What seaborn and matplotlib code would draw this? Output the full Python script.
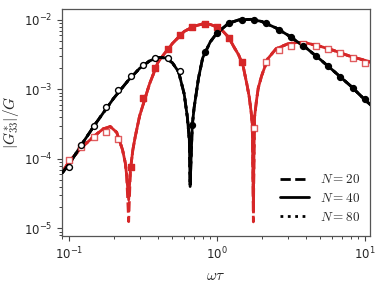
import matplotlib
matplotlib.use("Agg")
import matplotlib.pyplot as plt
import numpy as np
import pandas as pd
import seaborn as sns
from matplotlib.ticker import LogLocator

# --- simulation points (markers) ---
omega_pts = [0.1, 0.1212, 0.1468, 0.1778, 0.2154, 0.2610, 0.3162, 0.3831,
             0.4642, 0.5623, 0.6813, 0.8254, 1.0, 1.212, 1.468, 1.778,
             2.154, 2.610, 3.162, 3.831, 4.642, 5.623, 6.813, 8.254, 10.0]
black_pts = [7.75e-5, 1.59e-4, 2.98e-4, 5.54e-4, 9.74e-4, 1.55e-3, 2.27e-3,
             2.82e-3, 2.81e-3, 1.87e-3, 3.08e-4, 3.43e-3, 6.50e-3, 9.05e-3,
             1.01e-2, 1.01e-2, 8.97e-3, 7.25e-3, 5.64e-3, 4.18e-3, 3.06e-3,
             2.16e-3, 1.51e-3, 1.05e-3, 7.37e-4]
black_open = [1] * 10 + [0] * 15
red_pts = [9.67e-5, 1.50e-4, 2.04e-4, 2.43e-4, 1.94e-4, 7.67e-5, 7.54e-4,
           2.02e-3, 3.86e-3, 6.04e-3, 7.88e-3, 8.70e-3, 7.88e-3, 5.45e-3,
           2.51e-3, 2.82e-4, 2.46e-3, 3.70e-3, 4.27e-3, 4.47e-3, 4.22e-3,
           3.79e-3, 3.32e-3, 2.87e-3, 2.43e-3]
red_open = [1] * 5 + [0] * 10 + [1] * 10

# --- theory curves ---
black_x = [0.09, 0.1, 0.12, 0.15, 0.2, 0.25, 0.3, 0.35, 0.4, 0.45, 0.5,
           0.55, 0.6, 0.63, 0.65, 0.68, 0.7, 0.75, 0.8, 0.9, 1.0, 1.2, 1.4,
           1.7, 2.0, 2.5, 3.0, 4.0, 5.0, 6.0, 8.0, 10.0, 11.0]
black_y = [6.29e-5, 8.33e-5, 1.54e-4, 3.14e-4, 7.42e-4, 1.33e-3, 2.01e-3,
           2.57e-3, 2.89e-3, 2.84e-3, 2.41e-3, 1.79e-3, 8.61e-4, 4.02e-4,
           1.88e-4, 2.98e-4, 5.42e-4, 1.46e-3, 2.84e-3, 4.83e-3, 6.50e-3,
           8.97e-3, 1.00e-2, 1.02e-2, 9.51e-3, 7.67e-3, 6.08e-3, 3.96e-3,
           2.68e-3, 1.92e-3, 1.12e-3, 7.06e-4, 5.89e-4]
black_dip_x = [0.658]
black_dip_y = {20: [4.0e-5], 40: [4.2e-5], 80: [4.6e-5]}

red_x = [0.09, 0.1, 0.12, 0.15, 0.17, 0.19, 0.21, 0.23, 0.24, 0.245, 0.26,
         0.27, 0.28, 0.3, 0.35, 0.4, 0.45, 0.5, 0.6, 0.7, 0.8, 0.9, 1.0,
         1.1, 1.2, 1.3, 1.4, 1.5, 1.6, 1.65, 1.7, 1.73, 1.79, 1.85, 1.9,
         2.0, 2.2, 2.5, 3.0, 3.5, 4.0, 5.0, 6.0, 8.0, 10.0, 11.0]
red_y = [6.50e-5, 9.05e-5, 1.42e-4, 2.18e-4, 2.70e-4, 2.92e-4, 2.41e-4,
         1.35e-4, 8.76e-5, 5.89e-5, 6.95e-5, 1.35e-4, 2.07e-4, 4.16e-4,
         1.20e-3, 2.49e-3, 3.46e-3, 4.59e-3, 6.83e-3, 8.12e-3, 8.76e-3,
         8.62e-3, 7.88e-3, 6.83e-3, 5.60e-3, 4.09e-3, 3.14e-3, 2.18e-3,
         1.12e-3, 7.80e-4, 4.75e-4, 3.19e-4, 3.89e-4, 7.06e-4, 1.05e-3,
         1.56e-3, 2.75e-3, 3.83e-3, 4.52e-3, 4.75e-3, 4.67e-3, 4.16e-3,
         3.70e-3, 2.98e-3, 2.62e-3, 2.45e-3]
red_dip_x = [0.253, 1.76]
red_dip_y = {20: [1.25e-5, 1.24e-5], 40: [2.57e-5, 2.33e-5], 80: [3.2e-5, 3.0e-5]}

N_values = [20, 40, 80]
styles = {20: "--", 40: "-", 80: ":"}

RED = "#d62728"
BLACK = "black"


def curve(xs, ys, dip_x, dip_y):
    df = pd.DataFrame({"x": list(xs) + list(dip_x), "y": list(ys) + list(dip_y)})
    return df.sort_values("x")


sns.set_style("ticks")
plt.rcParams["mathtext.fontset"] = "cm"

fig, ax = plt.subplots(figsize=(3.84, 2.88), dpi=100)
fig.subplots_adjust(left=0.1615, right=0.9635, top=0.969, bottom=0.181)

handles = []
for N in N_values:
    df = curve(red_x, red_y, red_dip_x, red_dip_y[N])
    sns.lineplot(data=df, x="x", y="y", ax=ax, color=RED, lw=2,
                 linestyle=styles[N], sort=False, estimator=None, zorder=2)
for N in N_values:
    df = curve(black_x, black_y, black_dip_x, black_dip_y[N])
    sns.lineplot(data=df, x="x", y="y", ax=ax, color=BLACK, lw=2,
                 linestyle=styles[N], sort=False, estimator=None, zorder=3)
    handles.append(plt.Line2D([], [], color=BLACK, lw=2, linestyle=styles[N],
                              label=rf"$N = {N}$"))

# markers: open = one sign, filled = the other
pts = pd.DataFrame({"x": omega_pts, "red": red_pts, "black": black_pts,
                    "red_open": red_open, "black_open": black_open})
ro = pts[pts.red_open == 1]
rf = pts[pts.red_open == 0]
bo = pts[pts.black_open == 1]
bf = pts[pts.black_open == 0]
sns.scatterplot(data=ro, x="x", y="red", ax=ax, marker="s", s=18,
                facecolor="white", edgecolor=(0.84, 0.15, 0.16, 0.75),
                linewidth=1.0, zorder=5)
sns.scatterplot(data=rf, x="x", y="red", ax=ax, marker="s", s=18,
                color=RED, edgecolor=RED, linewidth=1.0, zorder=5)
sns.scatterplot(data=bo, x="x", y="black", ax=ax, marker="o", s=18,
                facecolor="white", edgecolor=BLACK, linewidth=1.0, zorder=6)
sns.scatterplot(data=bf, x="x", y="black", ax=ax, marker="o", s=18,
                color=BLACK, edgecolor=BLACK, linewidth=1.0, zorder=6)

ax.set_xscale("log")
ax.set_yscale("log")
ax.set_xlim(0.0897, 10.8)
ax.set_ylim(7.8e-6, 1.44e-2)
ax.xaxis.set_minor_locator(LogLocator(base=10, subs=np.arange(2, 10), numticks=20))
ax.yaxis.set_minor_locator(LogLocator(base=10, subs=np.arange(2, 10), numticks=20))
ax.tick_params(labelsize=8.5)
ax.tick_params(which="major", length=3.5, width=0.8, color="#444444")
ax.tick_params(which="minor", length=2.5, width=0.7, color="#444444",
               bottom=True, left=True, labelbottom=False, labelleft=False)
for sp in ax.spines.values():
    sp.set_color("#555555")
    sp.set_linewidth(0.9)
ax.set_xlabel(r"$\omega\tau$", fontsize=11)
ax.set_ylabel(r"$|G_{33}^{*}|/G$", fontsize=11, labelpad=2)

ax.legend(handles=handles, loc="lower right", frameon=False, fontsize=9.5,
          handlelength=2.2, handletextpad=0.8, labelspacing=0.45,
          bbox_to_anchor=(1.005, 0.0))

fig.savefig("out.png", dpi=100)
plt.close(fig)
